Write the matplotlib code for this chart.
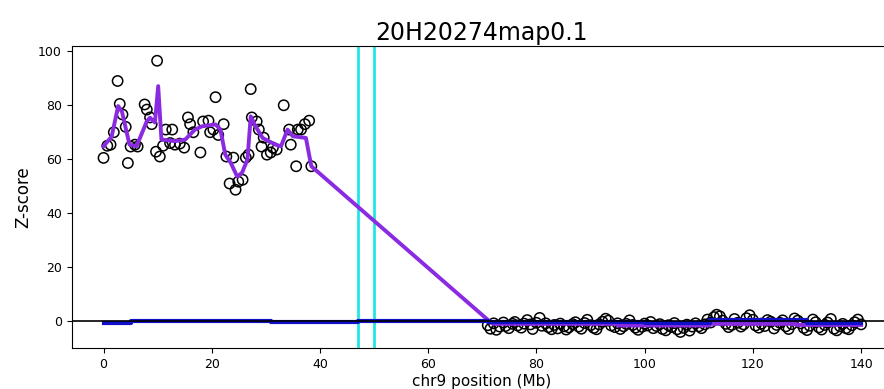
import numpy as np
import matplotlib.pyplot as plt

# snp z-scores, p-arm
left_pos = [0.0, 0.7, 1.3, 1.9, 2.6, 3.0, 3.5, 4.1, 4.5, 5.0, 5.8, 6.3, 7.6, 8.0, 8.6,
            8.9, 9.7, 9.9, 10.4, 11.0, 11.5, 12.3, 12.7, 13.2, 14.1, 14.9, 15.6, 16.0,
            16.6, 17.9, 18.4, 19.4, 19.7, 20.3, 20.7, 21.2, 22.2, 22.7, 23.3, 24.0,
            24.4, 24.9, 25.7, 26.3, 26.8, 27.2, 27.4, 28.3, 28.7, 29.2, 29.6, 30.2,
            30.9, 31.3, 32.0, 33.3, 34.3, 34.6, 35.6, 35.9, 36.5, 37.2, 38.0, 38.4]
left_z = [60.5, 65.0, 65.4, 70.0, 89.0, 80.5, 76.6, 72.0, 58.6, 64.7, 65.4, 64.7, 80.3,
          78.4, 75.5, 73.0, 62.8, 96.5, 61.0, 65.0, 71.0, 66.0, 71.0, 65.4, 65.8, 64.3,
          75.5, 73.0, 70.0, 62.5, 74.0, 74.3, 70.0, 71.0, 83.0, 69.0, 73.0, 61.0, 51.0,
          60.6, 48.7, 51.7, 52.4, 60.6, 61.7, 86.0, 75.5, 74.0, 71.0, 64.7, 68.0, 61.7,
          62.5, 64.3, 63.6, 80.0, 71.0, 65.4, 57.4, 71.0, 71.0, 73.0, 74.3, 57.4]

# q-arm
right_pos = [71.0, 71.5, 72.1, 72.6, 73.2, 73.9, 74.3, 74.9, 75.6, 76.0,
             76.5, 77.2, 77.7, 78.3, 78.9, 79.3, 80.0, 80.6, 81.0, 81.7,
             82.2, 82.8, 83.3, 83.9, 84.4, 85.1, 85.5, 86.0, 86.7, 87.2,
             87.8, 88.3, 88.9, 89.4, 90.0, 90.6, 91.1, 91.6, 92.2, 92.8,
             93.3, 93.8, 94.5, 95.0, 95.5, 96.1, 96.6, 97.2, 97.8, 98.3,
             98.8, 99.5, 100.0, 100.5, 101.1, 101.6, 102.2, 102.8, 103.3, 103.9,
             104.4, 105.0, 105.5, 106.0, 106.6, 107.2, 107.8, 108.3, 108.8, 109.4,
             110.0, 110.5, 111.1, 111.6, 112.2, 112.8, 113.3, 113.9, 114.4, 115.0,
             115.5, 116.1, 116.6, 117.2, 117.8, 118.3, 118.8, 119.4, 120.0, 120.5,
             121.1, 121.6, 122.2, 122.7, 123.3, 123.9, 124.4, 125.0, 125.5, 126.1,
             126.6, 127.2, 127.7, 128.3, 128.8, 129.4, 130.0, 130.5, 131.1, 131.6,
             132.2, 132.7, 133.3, 133.8, 134.4, 135.0, 135.5, 136.1, 136.6, 137.2,
             137.7, 138.3, 138.8, 139.4, 140.0]
right_z = [-1.5, -2.8, -0.8, -3.2, -2.0, -0.5, -1.8, -2.6, -1.0, -0.3,
           -1.6, -2.4, -0.9, 0.4, -1.2, -2.9, -0.6, 1.2, -1.7, -0.8,
           -2.2, -3.0, -1.4, -2.7, -0.9, -1.9, -3.1, -2.3, -1.1, -0.4,
           -2.0, -2.8, -0.7, 0.5, -1.5, -2.5, -3.0, -1.2, -0.2, 0.9,
           0.2, -1.6, -2.2, -0.8, -2.9, -1.9, -1.0, 0.3, -1.4, -2.4,
           -3.2, -2.1, -0.9, -1.6, -0.3, -2.6, -1.8, -1.1, -2.9, -3.4,
           -1.5, -2.2, -0.7, -3.0, -4.0, -2.5, -1.3, -3.5, -2.0, -0.8,
           -1.9, -2.6, -1.2, 0.6, -0.5, 1.5, 2.4, 1.8, 0.2, -1.0,
           -2.2, -1.4, 0.8, -0.6, -2.0, -1.2, 1.1, 2.2, 0.5, -1.6,
           -2.4, -0.9, -1.8, 0.4, -0.2, -2.7, -1.4, -0.6, 0.3, -1.9,
           -2.9, -1.1, 1.0, 0.2, -0.8, -2.5, -3.3, -1.7, 0.6, -0.4,
           -2.3, -3.1, -1.4, -0.5, 0.8, -2.8, -3.4, -1.9, -1.0, -2.6,
           -3.0, -1.5, -0.4, 0.6, -1.2]

# segmented (smoothed) sample profile
seg_pos = [0.0, 1.5, 2.7, 3.4, 4.8, 6.1, 8.0, 8.6, 9.5, 10.1, 10.7, 13.2, 15.1, 16.9,
           18.2, 20.7, 21.6, 22.5, 23.5, 24.7, 25.6, 26.6, 27.2, 28.1, 29.4, 31.8,
           32.8, 34.0, 35.0, 37.4, 38.4, 71.3, 72.0, 95.0, 95.0, 112.0, 112.0, 128.0,
           128.0, 140.0]
seg_z = [64.8, 68.4, 79.7, 77.7, 65.4, 64.8, 74.1, 75.4, 73.6, 87.1, 67.3, 66.7, 67.3,
         71.0, 72.2, 72.9, 71.0, 61.7, 58.7, 53.6, 55.0, 59.9, 75.9, 72.2, 67.9, 65.4,
         64.8, 71.0, 68.5, 67.9, 57.4, 0.0, -1.0, -1.0, -1.6, -1.6, -1.0, -1.0, -1.4, -1.4]

# reference profile
ref_pos = [0, 5, 5, 17, 17, 31, 31, 47, 47, 71, 71, 100, 100, 112, 112, 130, 130, 140]
ref_z = [-0.5, -0.5, 0.2, 0.2, 0.0, 0.0, -0.3, -0.3, -0.1, -0.1, -0.3, -0.3, -0.5, -0.5,
         0.3, 0.3, -0.7, -0.7]

centromere = [47.0, 50.0]

fig = plt.figure(figsize=(8.84, 3.89), dpi=100)
ax = fig.add_axes([0.081, 0.105, 0.928, 0.777])

ax.scatter(left_pos + right_pos, left_z + right_z, s=55, facecolors='none',
           edgecolors='black', linewidths=1.1, zorder=2)
ax.plot(seg_pos, seg_z, color='#8a2be2', lw=2.8, zorder=3)
ax.plot(ref_pos, ref_z, color='#1010c8', lw=3, zorder=4)
ax.axhline(0, color='black', lw=1.2, zorder=5)
for c in centromere:
    ax.axvline(c, color='#22e6e6', lw=2, zorder=1)

ax.set_xlim(-5.9, 145.7)
ax.set_ylim(-10, 102)
ax.set_xticks([0, 20, 40, 60, 80, 100, 120, 140])
ax.set_yticks([0, 20, 40, 60, 80, 100])
ax.tick_params(labelsize=9)
ax.set_xlabel('chr9 position (Mb)', fontsize=11, labelpad=2)
ax.set_ylabel('Z-score', fontsize=12)
ax.set_title('20H20274map0.1', fontsize=17, pad=4)

fig.savefig('out.png', dpi=100)
